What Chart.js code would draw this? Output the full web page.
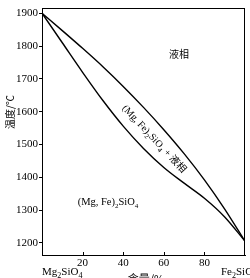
<!DOCTYPE html>
<html><head><meta charset="utf-8">
<script src="https://cdn.jsdelivr.net/npm/chart.js@4"></script>
<style>html,body{margin:0;padding:0;background:#fff}#wrap{width:250px;height:278px}</style>
</head><body><div id="wrap"><canvas id="c"></canvas></div>
<script>
// composition (% Fe2SiO4) and temperatures
const comp=[0,10,20,30,40,50,60,70,80,90,100];
const liquidus=[1900,1847,1793,1737,1677,1613,1545,1472,1392,1303,1205];
const solidus=[1900,1810,1720,1634,1556,1488,1430,1382,1336,1279,1205];
const yTicks=[1200,1300,1400,1500,1600,1700,1800,1900];
const xTicks=[20,40,60,80];

const SERIF='"Liberation Serif","DejaVu Serif",serif';
const CJK='"Noto Sans CJK SC",sans-serif';

// text with subscripts: parts = [[text, isSub, isCjk]]
function chem(ctx,parts,x,y,size,align){
  const fontOf=p=>(p[1]?Math.round(size*0.7):size)+'px '+(p[2]?CJK:SERIF);
  let w=0;
  parts.forEach(p=>{ctx.font=fontOf(p);w+=ctx.measureText(p[0]).width;});
  let cx=align==='center'?x-w/2:x;
  ctx.textAlign='left';ctx.textBaseline='alphabetic';
  parts.forEach(p=>{
    ctx.font=fontOf(p);
    ctx.fillText(p[0],cx,p[1]?y+size*0.28:y);
    cx+=ctx.measureText(p[0]).width;
  });
}

const olivine=[['(Mg, Fe)'],['2',1],['SiO'],['4',1]];

const deco={
  id:'deco',
  afterDraw(chart){
    const {ctx,chartArea:a,scales:{x,y}}=chart;
    ctx.save();
    ctx.strokeStyle='#000';ctx.lineWidth=1;
    ctx.strokeRect(a.left+0.5,a.top+0.5,a.right-a.left-1,a.bottom-a.top);
    // x ticks point inwards
    xTicks.forEach(v=>{
      const px=Math.round(x.getPixelForValue(v))+0.5;
      ctx.beginPath();ctx.moveTo(px,a.bottom);ctx.lineTo(px,a.bottom-3);ctx.stroke();
    });
    ctx.fillStyle='#000';
    // phase labels
    ctx.font='10px '+CJK;ctx.textAlign='center';ctx.textBaseline='middle';
    ctx.fillText('液相',x.getPixelForValue(67.5),y.getPixelForValue(1776));
    chem(ctx,olivine,x.getPixelForValue(32.5),y.getPixelForValue(1325)+3,10.5,'center');
    ctx.save();
    ctx.translate(x.getPixelForValue(55.5),y.getPixelForValue(1518));
    ctx.rotate(47*Math.PI/180);
    chem(ctx,olivine.concat([[' + '],['液相',0,1]]),0,3.5,10,'center');
    ctx.restore();
    // axis titles
    ctx.save();
    ctx.translate(10,112);ctx.rotate(-Math.PI/2);
    ctx.font='10px '+CJK;ctx.textAlign='center';ctx.textBaseline='middle';
    ctx.fillText('温度/℃',0,0);
    ctx.restore();
    ctx.font='11px '+CJK;ctx.textAlign='center';ctx.textBaseline='top';
    ctx.fillText('含量/%',146,273);
    chem(ctx,[['Mg'],['2',1],['SiO'],['4',1]],42,275,11,'left');
    chem(ctx,[['Fe'],['2',1],['SiO'],['4',1]],221,275,11,'left');
    ctx.restore();
  }
};

const line=(vals)=>({
  data:comp.map((c,i)=>({x:c,y:vals[i]})),
  borderColor:'#000',borderWidth:1.4,pointRadius:0,fill:false,
  cubicInterpolationMode:'monotone'
});

new Chart(document.getElementById('c'),{
  type:'line',
  data:{datasets:[line(liquidus),line(solidus)]},
  options:{
    responsive:true,maintainAspectRatio:false,animation:false,devicePixelRatio:1,
    layout:{padding:{top:8,right:5,left:0,bottom:0}},
    plugins:{legend:{display:false},tooltip:{enabled:false}},
    scales:{
      x:{type:'linear',min:0,max:100,
        afterBuildTicks:s=>{s.ticks=xTicks.map(v=>({value:v}));},
        afterFit:s=>{s.height=23;},
        ticks:{color:'#000',font:{family:SERIF,size:11},padding:2,maxRotation:0,callback:v=>v},
        grid:{drawOnChartArea:false,drawTicks:false},
        border:{color:'#000',width:1}},
      y:{min:1163,max:1916,
        afterBuildTicks:s=>{s.ticks=yTicks.map(v=>({value:v}));},
        afterFit:s=>{s.width=42;},
        ticks:{color:'#000',font:{family:SERIF,size:11},padding:1,callback:v=>v},
        grid:{drawOnChartArea:false,tickLength:3,color:'#000'},
        border:{color:'#000',width:1}}
    }
  },
  plugins:[deco]
});
</script>
</body></html>
